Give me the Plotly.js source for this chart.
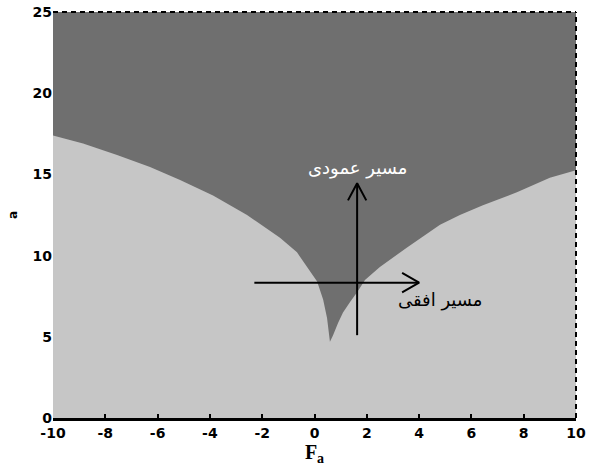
<!DOCTYPE html>
<html>
<head>
<meta charset="utf-8">
<script src="https://cdn.plot.ly/plotly-3.0.1.min.js"></script>
<style>html,body{margin:0;padding:0;background:#fff;}#chart{width:590px;height:470px;}</style>
</head>
<body>
<div id="chart"></div>
<script>
// Boundary between the two regions (F_a, a)
const boundaryX = [-10, -8.85, -7.55, -6.29, -5.14, -3.88, -2.58, -1.32, -0.67, -0.29, 0.1, 0.33, 0.48, 0.59, 0.71, 0.9, 1.09, 1.36, 1.63, 1.93, 2.5, 3.54, 4.8, 5.56, 6.44, 7.74, 9.0, 10];
const boundaryY = [17.4, 16.9, 16.2, 15.45, 14.65, 13.7, 12.5, 11.1, 10.2, 9.3, 8.4, 7.3, 6.15, 4.7, 5.1, 5.85, 6.5, 7.15, 7.75, 8.5, 9.3, 10.5, 11.9, 12.5, 13.1, 13.9, 14.8, 15.25];

// Arrows (paths)
const hArrowX = [-2.3, 4.0];
const hArrowY = [8.33, 8.33];
const vArrowX = [1.63, 1.63];
const vArrowY = [5.1, 14.45];

// Labels
const vLabel = "مسیر عمودی";
const hLabel = "مسیر افقی";
const vLabelPos = [1.63, 15.4];
const hLabelPos = [4.8, 7.25];

const xTickVals = [-10, -8, -6, -4, -2, 0, 2, 4, 6, 8, 10];
const yTickVals = [0, 5, 10, 15, 20, 25];

const darkGray = "#6f6f6f";
const lightGray = "#c6c6c6";

const hx1 = hArrowX[1], hy = hArrowY[1];
const vx = vArrowX[1], vy1 = vArrowY[1];
const hHeadLen = 0.65, hHeadHalf = 0.6;
const vHeadLen = 1.05, vHeadHalf = 0.35;

const traces = [
  {x: boundaryX, y: boundaryY, type: "scatter", mode: "lines", fill: "tozeroy",
   fillcolor: lightGray, line: {width: 0, color: lightGray}, hoverinfo: "skip"},
  {x: hArrowX, y: hArrowY, type: "scatter", mode: "lines", line: {color: "#000", width: 2}},
  {x: [hx1 - hHeadLen, hx1, hx1 - hHeadLen], y: [hy + hHeadHalf, hy, hy - hHeadHalf],
   type: "scatter", mode: "lines", line: {color: "#000", width: 2}},
  {x: vArrowX, y: vArrowY, type: "scatter", mode: "lines", line: {color: "#000", width: 2}},
  {x: [vx - vHeadHalf, vx, vx + vHeadHalf], y: [vy1 - vHeadLen, vy1, vy1 - vHeadLen],
   type: "scatter", mode: "lines", line: {color: "#000", width: 2}}
];

const tickFont = {family: "DejaVu Sans, Liberation Sans, sans-serif", size: 14, color: "#000", weight: "bold"};

const layout = {
  width: 590, height: 470,
  margin: {l: 53, r: 14, t: 12, b: 52},
  paper_bgcolor: "#fff",
  plot_bgcolor: darkGray,
  showlegend: false,
  xaxis: {
    range: [-10, 10], tickvals: xTickVals, ticktext: xTickVals.map(String),
    showgrid: false, zeroline: false,
    showline: true, linecolor: "#000", linewidth: 3,
    ticks: "inside", ticklen: 4, tickwidth: 2, tickcolor: "#000",
    tickfont: tickFont,
    title: {text: "F<sub>a</sub>", font: {family: "Liberation Serif, Times New Roman, serif", size: 20, color: "#000", weight: "bold"}, standoff: 4}
  },
  yaxis: {
    range: [0, 25], tickvals: yTickVals, ticktext: yTickVals.map(String),
    showgrid: false, zeroline: false, showline: false,
    ticks: "", tickfont: tickFont,
    title: {text: "a", font: {family: "DejaVu Sans, sans-serif", size: 12, color: "#000", weight: "bold"}, standoff: 12}
  },
  shapes: [
    {type: "line", xref: "paper", yref: "paper", x0: 0, x1: 1, y0: 1, y1: 1, line: {color: "#000", width: 2, dash: "5px,4px"}},
    {type: "line", xref: "paper", yref: "paper", x0: 1, x1: 1, y0: 0, y1: 1, line: {color: "#000", width: 2, dash: "5px,4px"}}
  ],
  annotations: [
    {x: vLabelPos[0], y: vLabelPos[1], xref: "x", yref: "y", text: vLabel, showarrow: false,
     font: {family: "DejaVu Sans, Noto Sans, sans-serif", size: 18, color: "#fff"}},
    {x: hLabelPos[0], y: hLabelPos[1], xref: "x", yref: "y", text: hLabel, showarrow: false,
     font: {family: "DejaVu Sans, Noto Sans, sans-serif", size: 18, color: "#000"}}
  ]
};

Plotly.newPlot("chart", traces, layout, {displayModeBar: false, staticPlot: true});
</script>
</body>
</html>
